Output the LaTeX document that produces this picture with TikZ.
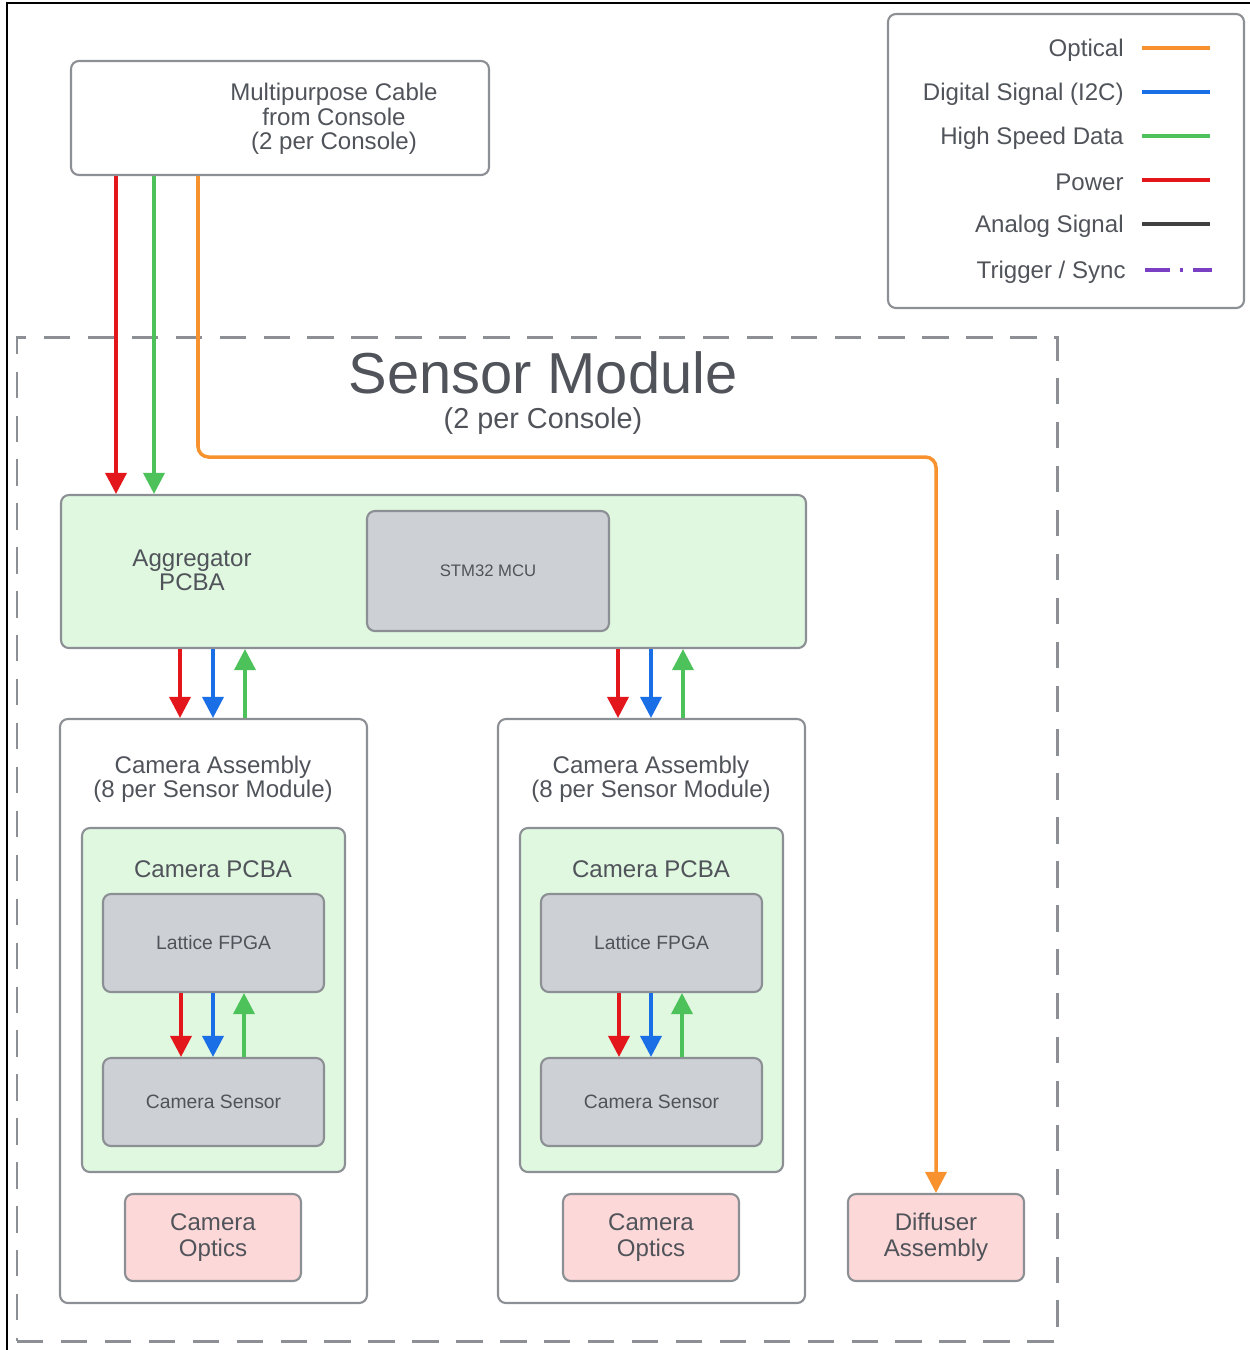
\documentclass[tikz,border=0pt]{standalone}
\usepackage{fontspec}
\setmainfont{Liberation Sans}
\usetikzlibrary{fit,arrows.meta}

\definecolor{txtgray}{HTML}{50545A}
\definecolor{boxgray}{HTML}{8C9095}
\definecolor{pcbgreen}{HTML}{E0F7E0}
\definecolor{chipgray}{HTML}{CDD1D6}
\definecolor{optpink}{HTML}{FDD8D8}
\definecolor{pwrred}{HTML}{E3161C}
\definecolor{i2cblue}{HTML}{1B6FE6}
\definecolor{hsdgreen}{HTML}{4DC25A}
\definecolor{optorange}{HTML}{F7922E}
\definecolor{trigpurple}{HTML}{7B3FC4}

\tikzset{
  lbl/.style={text=txtgray, align=center, inner sep=0pt, font=\fontsize{13.7}{13.9}\selectfont},
  small/.style={lbl, font=\fontsize{11}{12}\selectfont},
  box/.style={draw=boxgray, line width=1.2pt, rounded corners=4.5pt, inner sep=0pt},
  pcb/.style={box, fill=pcbgreen},
  chip/.style={box, fill=chipgray},
  optics/.style={box, fill=optpink},
  sig/.style={line width=2pt, -{Triangle[width=12pt,length=12pt]}},
}

\begin{document}
\begin{tikzpicture}[x=0.02cm, y=-0.02cm]
	\useasboundingbox (0,0) rectangle (1250,1350);
	\draw[line width=1.2pt] (7,1350) -- (7,3) -- (1250,3);

	% legend
	\node[box, fit={(888,14) (1244,308)}] (legend) {};
	\foreach \y/\t/\c in {48/Optical/optorange, 92/Digital Signal (I2C)/i2cblue,
		136/High Speed Data/hsdgreen, 180/Power/pwrred, 224/Analog Signal/black!75} {
		\node[lbl, anchor=east] (key\y) at (1124,\y+2) {\t};
		\draw[line width=2pt, \c] (1142,\y) -- (1210,\y);
	}
	\node[lbl, anchor=east] (keytrig) at (1126,272) {Trigger / Sync};
	\draw[line width=2pt, trigpurple, dash pattern=on 14pt off 6pt on 1.5pt off 6pt] (1145,270) -- (1212,270);

	% sensor module
	\node[draw=boxgray, line width=1.7pt, dash pattern=on 15pt off 10pt, inner sep=0pt,
		fit={(17,337) (1057,1341)}] (module) {};
	\node[lbl, font=\fontsize{32.9}{34}\selectfont] (modtitle) at (543,373) {Sensor Module};
	\node[lbl, font=\fontsize{16.4}{18}\selectfont] (modsub) at (543,421) {(2 per Console)};

	\node[box, fit={(71,61) (489,175)}] (cable) {};
	\node[lbl] (cabletext) at (334,119) {Multipurpose Cable\\from Console\\(2 per Console)};

	\node[pcb, fit={(61,495) (806,648)}] (agg) {};
	\node[lbl, font=\fontsize{13.7}{13.5}\selectfont] (aggtext) at (192,570) {Aggregator\\PCBA};
	\node[chip, fit={(367,511) (609,631)}] (mcu) {};
	\node[small, font=\fontsize{9.5}{10}\selectfont] (mcutext) at (mcu) {STM32 MCU};

	\node[optics, fit={(848,1194) (1024,1281)}] (diffuser) {};
	\node[lbl, font=\fontsize{13.7}{14.7}\selectfont] (diffusertext) at (diffuser) {Diffuser\\Assembly};

	\draw[sig, pwrred] (cable.south -| 116,0) -- (agg.north -| 116,0);
	\draw[sig, hsdgreen] (cable.south -| 154,0) -- (agg.north -| 154,0);
	\draw[sig, optorange, rounded corners=6pt] (cable.south -| 198,0) |- (936,457) -- (diffuser.north);

	% camera assemblies
	\foreach \o [count=\i] in {0,438} {
		\node[box, fit={(60+\o,719) (367+\o,1303)}] (asm\i) {};
		\node[lbl] (asmtext\i) at (213+\o,779) {Camera Assembly\\(8 per Sensor Module)};
		\node[pcb, fit={(82+\o,828) (345+\o,1172)}] (campcb\i) {};
		\node[lbl] (pcbtext\i) at (213+\o,869) {Camera PCBA};
		\node[chip, fit={(103+\o,894) (324+\o,992)}] (fpga\i) {};
		\node[small] (fpgatext\i) at (fpga\i) {Lattice FPGA};
		\node[chip, fit={(103+\o,1058) (324+\o,1146)}] (sensor\i) {};
		\node[small] (sensortext\i) at (sensor\i) {Camera Sensor};
		\node[optics, fit={(125+\o,1194) (301+\o,1281)}] (optics\i) {};
		\node[lbl, font=\fontsize{13.7}{14.7}\selectfont] (opticstext\i) at (optics\i) {Camera\\Optics};

		\draw[sig, pwrred] (agg.south -| 180+\o,0) -- (asm\i.north -| 180+\o,0);
		\draw[sig, i2cblue] (agg.south -| 213+\o,0) -- (asm\i.north -| 213+\o,0);
		\draw[sig, hsdgreen] (asm\i.north -| 245+\o,0) -- (agg.south -| 245+\o,0);

		\draw[sig, pwrred] (fpga\i.south -| 181+\o,0) -- (sensor\i.north -| 181+\o,0);
		\draw[sig, i2cblue] (fpga\i.south -| 213+\o,0) -- (sensor\i.north -| 213+\o,0);
		\draw[sig, hsdgreen] (sensor\i.north -| 244+\o,0) -- (fpga\i.south -| 244+\o,0);
	}
\end{tikzpicture}
\end{document}
